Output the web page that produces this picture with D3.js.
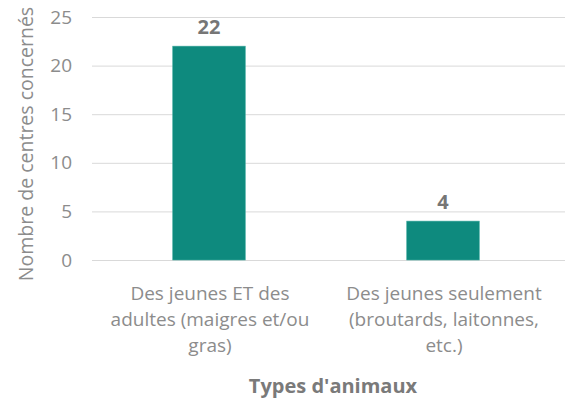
<!DOCTYPE html>
<html><head><meta charset="utf-8">
<script src="https://cdn.jsdelivr.net/npm/d3@7"></script>
<style>body{margin:0;background:#fff}svg{display:block}text{font-family:"Open Sans",sans-serif}</style>
</head><body><svg id="c" width="565" height="402"></svg>
<script>
const categories = [["Des jeunes ET des","adultes (maigres et/ou","gras)"],["Des jeunes seulement","(broutards, laitonnes,","etc.)"]];
const values = [22, 4];
const yTicks = [0, 5, 10, 15, 20, 25];
const yTitle = "Nombre de centres concernés";
const xTitle = "Types d'animaux";

const svg = d3.select("#c");
const mLeft = 92, mRight = 565, mTop = 17, mBottom = 260;
const x = d3.scaleBand().domain(d3.range(values.length)).range([mLeft, 560]).paddingInner(0.69).paddingOuter(0.345);
const y = d3.scaleLinear().domain([0, 25]).range([mBottom, mTop]);
const gray = "#8c8c8c";

// gridlines
svg.append("g").selectAll("line").data(yTicks).join("line")
  .attr("x1", mLeft).attr("x2", mRight).attr("y1", d => y(d)+0.5).attr("y2", d => y(d)+0.5)
  .attr("stroke", "#d9d9d9").attr("stroke-width", 1);

// y tick labels
const yAxis = d3.axisLeft(y).tickValues(yTicks).tickSize(0).tickPadding(0);
const ga = svg.append("g").attr("transform", `translate(72,0)`).call(yAxis);
ga.select(".domain").remove();
ga.selectAll("text").attr("fill", gray).style("font-size", "19px").style("font-family", '"Open Sans",sans-serif');

// bars
svg.append("g").selectAll("rect").data(values).join("rect")
  .attr("x", (d,i) => x(i)).attr("width", x.bandwidth())
  .attr("y", d => y(d)).attr("height", d => y(0) - y(d))
  .attr("fill", "#0e8a7e").attr("stroke", "#3fa99e").attr("stroke-width", 0.6);

// value labels
svg.append("g").selectAll("text").data(values).join("text")
  .attr("x", (d,i) => x(i) + x.bandwidth()/2).attr("y", d => y(d) - 12.5)
  .attr("text-anchor", "middle").attr("fill", "#767676")
  .style("font-size", "20px").style("font-weight", "bold").text(d => d);

// category labels
const cg = svg.append("g").selectAll("text").data(categories).join("text")
  .attr("text-anchor", "middle").attr("fill", gray).style("font-size", "19px")
  .attr("x", (d,i) => x(i) + x.bandwidth()/2 + 1);
cg.selectAll("tspan").data(d => d).join("tspan")
  .attr("x", function(){ return d3.select(this.parentNode).attr("x"); })
  .attr("y", (d,j) => 300 + j*26).text(d => d);

// x title
svg.append("text").attr("x", 333).attr("y", 393).attr("text-anchor", "middle")
  .attr("fill", "#7a7a7a").style("font-size", "20px").style("font-weight", "bold").text(xTitle);

// y title
svg.append("text").attr("transform", "translate(33,144) rotate(-90)").attr("text-anchor", "middle")
  .attr("fill", gray).style("font-size", "19.5px").text(yTitle);
</script></body></html>
